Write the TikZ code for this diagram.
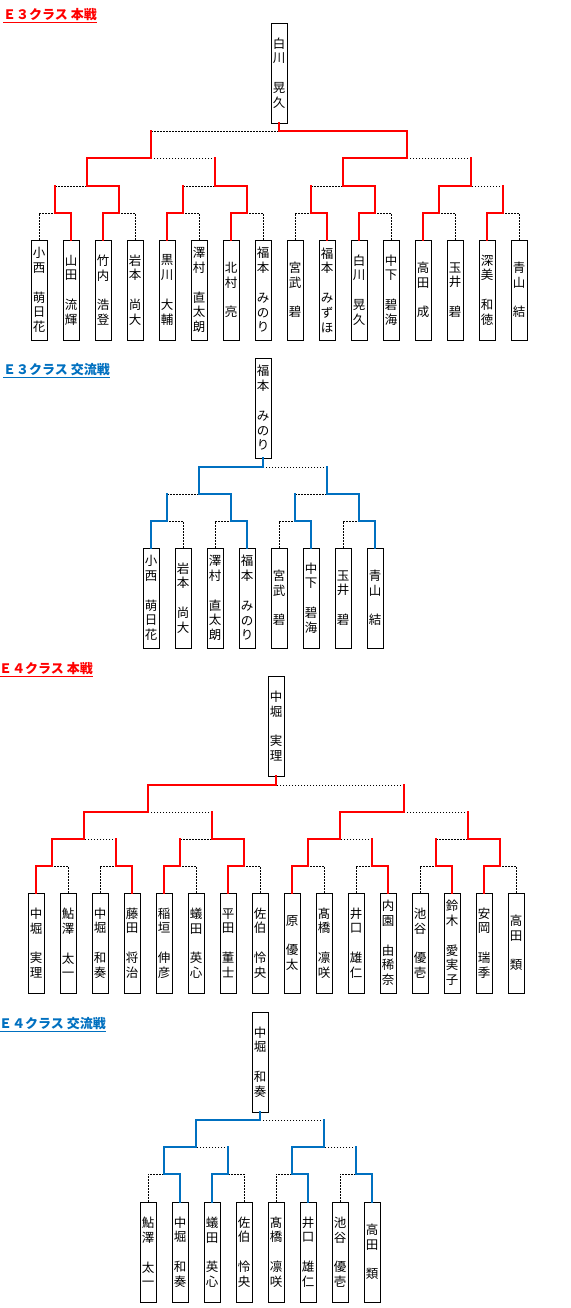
\documentclass[tikz,border=0pt]{standalone}
\usepackage{fontspec}
\setmainfont{Noto Sans CJK JP}
\usetikzlibrary{calc}
\definecolor{winred}{HTML}{FF0000}
\definecolor{winblue}{HTML}{0070C0}
% one character per line, a blank slot between family and given name
\newcommand\stackloop[1]{\ifx#1\relax\else\hbox to 12pt{\hss#1\hss}\expandafter\stackloop\fi}
\newcommand\vname[2]{\vbox{\baselineskip=14.8pt\lineskiplimit=-20pt\lineskip=0pt
  \expandafter\stackloop#1\relax\hbox{}\expandafter\stackloop#2\relax}}
\tikzset{
  namebox/.style={
    draw=black,
    line width=0.9pt,
    minimum width=16pt,
    minimum height=100pt,
    inner sep=0pt,
    font=\fontsize{12.5}{14.8}\selectfont
  },
  heading/.style={
    anchor=north west,
    inner sep=0pt,
    font=\fontsize{13}{14}\selectfont\bfseries
  },
  redline/.style={draw=winred, line width=2.2pt, line cap=rect},
  blueline/.style={draw=winblue, line width=2.2pt, line cap=rect},
  dotline/.style={draw=black, line width=0.9pt, dash pattern=on 1.5pt off 1.5pt}
}

\begin{document}
\begin{tikzpicture}[x=1pt,y=-1pt]
\fill[white] (0,0) rectangle (570,1308);
\useasboundingbox (0,0) rectangle (570,1308);

% ---------- E3 main ----------
\node[heading, text=winred] (ahead) at (3,8) {\underline{Ｅ３クラス 本戦}};
\node[namebox] (awin) at (279,73) {\vname{白川}{晃久}};
\foreach \i/\sur/\giv in {1/小西/萌日花,2/山田/流輝,3/竹内/浩登,4/岩本/尚大,5/黒川/大輔,6/澤村/直太朗,7/北村/亮,8/福本/みのり,9/宮武/碧,10/福本/みずほ,11/白川/晃久,12/中下/碧海,13/高田/成,14/玉井/碧,15/深美/和徳,16/青山/結}
  \node[namebox] (a\i) at ({7+32*\i},290) {\vname{\sur}{\giv}};
\foreach \j in {1,...,8} \coordinate (ap\j) at ({64*\j-9},213);
\foreach \j in {1,...,4} \coordinate (aq\j) at ({128*\j-41},186);
\coordinate (ah1) at (151,158);
\coordinate (ah2) at (407,158);
\coordinate (af) at (279,131);
\foreach \w/\l/\m in {a2/a1/ap1,a3/a4/ap2,a5/a6/ap3,a7/a8/ap4,a10/a9/ap5,a11/a12/ap6,a13/a14/ap7,a15/a16/ap8} {
  \draw[dotline] (\l.north) |- (\m);
  \draw[redline] (\w.north) |- (\m);
}
\foreach \w/\l/\m in {ap2/ap1/aq1,ap4/ap3/aq2,ap6/ap5/aq3,ap7/ap8/aq4,aq1/aq2/ah1,aq3/aq4/ah2,ah2/ah1/af} {
  \draw[dotline] (\l |- \m) -- (\m);
  \draw[redline] (\l) -- (\l |- \m);
  \draw[redline] (\w) |- (\m);
}
\draw[redline] (af) -- (awin.south);

% ---------- E3 exchange ----------
\node[heading, text=winblue] (bhead) at (3,363) {\underline{Ｅ３クラス 交流戦}};
\node[namebox] (bwin) at (263,408) {\vname{福本}{みのり}};
\foreach \i/\sur/\giv in {1/小西/萌日花,2/岩本/尚大,3/澤村/直太朗,4/福本/みのり,5/宮武/碧,6/中下/碧海,7/玉井/碧,8/青山/結}
  \node[namebox] (b\i) at ({119+32*\i},598) {\vname{\sur}{\giv}};
\foreach \j in {1,...,4} \coordinate (bp\j) at ({64*\j+103},521);
\coordinate (bh1) at (199,494);
\coordinate (bh2) at (327,494);
\coordinate (bf) at (263,467);
\foreach \w/\l/\m in {b1/b2/bp1,b4/b3/bp2,b6/b5/bp3,b8/b7/bp4} {
  \draw[dotline] (\l.north) |- (\m);
  \draw[blueline] (\w.north) |- (\m);
}
\foreach \w/\l/\m in {bp2/bp1/bh1,bp4/bp3/bh2,bh1/bh2/bf} {
  \draw[dotline] (\l |- \m) -- (\m);
  \draw[blueline] (\l) -- (\l |- \m);
  \draw[blueline] (\w) |- (\m);
}
\draw[blueline] (bf) -- (bwin.south);

% ---------- E4 main ----------
\node[heading, text=winred] (chead) at (-1,662) {\underline{Ｅ４クラス 本戦}};
\node[namebox] (cwin) at (276,726) {\vname{中堀}{実理}};
\foreach \i/\sur/\giv in {1/中堀/実理,2/鮎澤/太一,3/中堀/和奏,4/藤田/将治,5/稲垣/伸彦,6/蟻田/英心,7/平田/董士,8/佐伯/怜央,9/原/優太,10/髙橋/凛咲,11/井口/雄仁,12/内園/由稀奈,13/池谷/優壱,14/鈴木/愛実子,15/安岡/瑞季,16/高田/類}
  \node[namebox] (c\i) at ({4+32*\i},943) {\vname{\sur}{\giv}};
\foreach \j in {1,...,8} \coordinate (cp\j) at ({64*\j-12},866);
\foreach \j in {1,...,4} \coordinate (cq\j) at ({128*\j-44},839);
\coordinate (ch1) at (148,812);
\coordinate (ch2) at (404,812);
\coordinate (cf) at (276,785);
\foreach \w/\l/\m in {c1/c2/cp1,c4/c3/cp2,c5/c6/cp3,c7/c8/cp4,c9/c10/cp5,c12/c11/cp6,c14/c13/cp7,c15/c16/cp8} {
  \draw[dotline] (\l.north) |- (\m);
  \draw[redline] (\w.north) |- (\m);
}
\foreach \w/\l/\m in {cp1/cp2/cq1,cp4/cp3/cq2,cp5/cp6/cq3,cp8/cp7/cq4,cq1/cq2/ch1,cq3/cq4/ch2,ch1/ch2/cf} {
  \draw[dotline] (\l |- \m) -- (\m);
  \draw[redline] (\l) -- (\l |- \m);
  \draw[redline] (\w) |- (\m);
}
\draw[redline] (cf) -- (cwin.south);

% ---------- E4 exchange ----------
\node[heading, text=winblue] (dhead) at (-1,1017) {\underline{Ｅ４クラス 交流戦}};
\node[namebox] (dwin) at (260,1062) {\vname{中堀}{和奏}};
\foreach \i/\sur/\giv in {1/鮎澤/太一,2/中堀/和奏,3/蟻田/英心,4/佐伯/怜央,5/髙橋/凛咲,6/井口/雄仁,7/池谷/優壱,8/高田/類}
  \node[namebox] (d\i) at ({116+32*\i},1252) {\vname{\sur}{\giv}};
\foreach \j in {1,...,4} \coordinate (dp\j) at ({64*\j+100},1174);
\coordinate (dh1) at (196,1147);
\coordinate (dh2) at (324,1147);
\coordinate (df) at (260,1120);
\foreach \w/\l/\m in {d2/d1/dp1,d3/d4/dp2,d6/d5/dp3,d8/d7/dp4} {
  \draw[dotline] (\l.north) |- (\m);
  \draw[blueline] (\w.north) |- (\m);
}
\foreach \w/\l/\m in {dp1/dp2/dh1,dp3/dp4/dh2,dh1/dh2/df} {
  \draw[dotline] (\l |- \m) -- (\m);
  \draw[blueline] (\l) -- (\l |- \m);
  \draw[blueline] (\w) |- (\m);
}
\draw[blueline] (df) -- (dwin.south);
\end{tikzpicture}
\end{document}
